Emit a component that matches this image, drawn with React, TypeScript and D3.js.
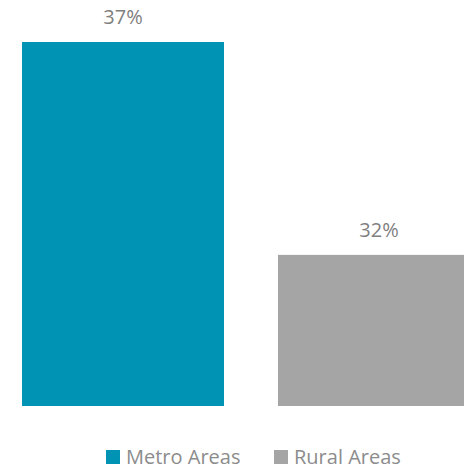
import React from "react";
import * as d3 from "d3";

const categories = ["Metro Areas", "Rural Areas"];
const values = [37, 32];
const labels = ["37%", "32%"];
const colors = ["#0093B4", "#A5A5A5"];

const W = 464;
const H = 469;

export default function App() {
  const x = d3
    .scaleBand<string>()
    .domain(categories)
    .range([-5, 507])
    .paddingInner(54 / 256)
    .paddingOuter(27 / 256);
  const y = d3.scaleLinear().domain([28.45, 37]).range([406, 42]);
  const font = "'Open Sans', 'DejaVu Sans', sans-serif";
  const legendX = [106, 274];
  return (
    <svg
      width={W}
      height={H}
      style={{ position: "absolute", left: 0, top: 0, background: "#fff" }}
    >
      {categories.map((c, i) => (
        <g key={c}>
          <rect
            x={x(c)}
            y={y(values[i])}
            width={x.bandwidth()}
            height={y.range()[0] - y(values[i])}
            fill={colors[i]}
          />
          <text
            x={(x(c) as number) + x.bandwidth() / 2}
            y={y(values[i]) - 18}
            textAnchor="middle"
            fontFamily={font}
            fontSize={20}
            fill="#7F7F7F"
          >
            {labels[i]}
          </text>
        </g>
      ))}
      {categories.map((c, i) => (
        <g key={"l" + c} transform={`translate(${legendX[i]},450)`}>
          <rect x={0} y={0} width={14} height={14} fill={colors[i]} />
          <text x={20} y={13.5} fontFamily={font} fontSize={20} fill="#8C8C8C">
            {c}
          </text>
        </g>
      ))}
    </svg>
  );
}
